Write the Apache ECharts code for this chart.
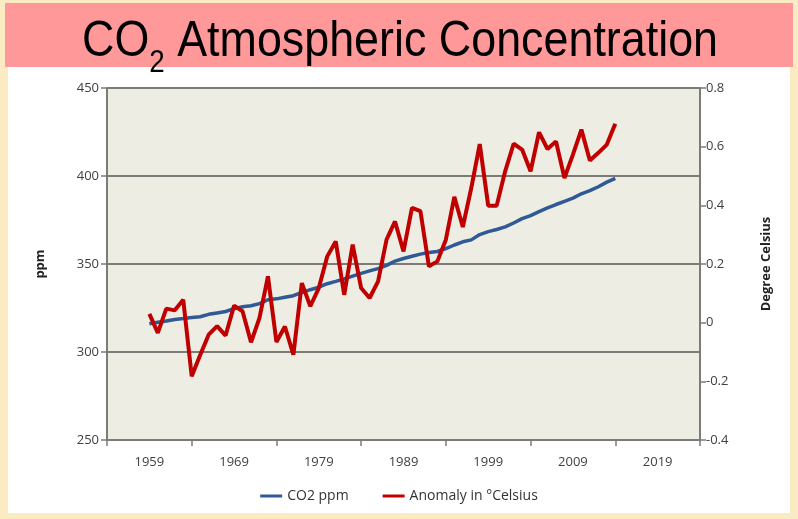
<!DOCTYPE html>
<html>
<head>
<meta charset="utf-8">
<script src="https://cdn.jsdelivr.net/npm/echarts@6/dist/echarts.min.js"></script>
<style>
html,body{margin:0;padding:0;background:#FAEBC3;}
#chart{width:798px;height:519px;}
</style>
</head>
<body>
<div id="chart"></div>
<script>
// ---- data ----
const years = [1959,1960,1961,1962,1963,1964,1965,1966,1967,1968,1969,1970,1971,1972,1973,1974,1975,1976,1977,1978,
  1979,1980,1981,1982,1983,1984,1985,1986,1987,1988,1989,1990,1991,1992,1993,1994,1995,1996,1997,1998,
  1999,2000,2001,2002,2003,2004,2005,2006,2007,2008,2009,2010,2011,2012,2013,2014];
const co2ppm = [316.0,316.9,317.6,318.5,319.0,319.6,320.0,321.4,322.2,323.0,324.6,325.7,326.3,327.5,329.7,330.2,331.1,332.0,333.8,335.4,
  336.8,338.8,340.1,341.5,343.1,344.7,346.1,347.4,349.2,351.6,353.1,354.4,355.6,356.5,357.1,358.8,360.8,362.6,363.7,366.7,
  368.4,369.6,371.1,373.3,375.8,377.5,379.8,381.9,383.8,385.6,387.4,389.9,391.7,393.9,396.5,398.7];
const anomaly = [0.03,-0.035,0.048,0.042,0.078,-0.183,-0.11,-0.041,-0.012,-0.044,0.058,0.039,-0.067,0.016,0.158,-0.066,-0.013,-0.109,0.135,0.056,
  0.118,0.226,0.277,0.095,0.266,0.118,0.084,0.141,0.283,0.345,0.243,0.391,0.38,0.192,0.209,0.283,0.429,0.326,0.459,0.609,
  0.399,0.399,0.516,0.61,0.59,0.516,0.649,0.592,0.618,0.493,0.573,0.658,0.553,0.579,0.607,0.678];
const xLabels = ['1959','1969','1979','1989','1999','2009','2019'];
const axisFirstYear = 1954, axisLastYear = 2024;
const leftTicks = [250,300,350,400,450];
const rightTicks = [-0.4,-0.2,0,0.2,0.4,0.6,0.8];
const seriesNames = ['CO2 ppm','Anomaly in °Celsius'];
const titleParts = ['CO','2',' Atmospheric Concentration'];

// category axis years
const cats = [];
for (let y = axisFirstYear; y <= axisLastYear; y++) cats.push(String(y));

const chart = echarts.init(document.getElementById('chart'));

// title measurement
const fam = "'Liberation Sans Narrow','Liberation Sans',Arial,sans-serif";
const mainFs = 50, subFs = 31;
const ctx = document.createElement('canvas').getContext('2d');
ctx.font = mainFs + 'px ' + fam;
const w1 = ctx.measureText(titleParts[0]).width;
const w3 = ctx.measureText(titleParts[2]).width;
ctx.font = subFs + 'px ' + fam;
const w2 = ctx.measureText(titleParts[1]).width;
const targetW = 636;
const sx = targetW / (w1 + w2 + w3);
const x0 = 400 - targetW / 2;

const labelFont = "'Open Sans', 'Noto Sans', sans-serif";
const axisGray = '#7B7B78';

chart.setOption({
  backgroundColor: '#FAEBC3',
  animation: false,
  graphic: [
    {type:'rect', z:-10, shape:{x:8,y:66,width:782,height:447}, style:{fill:'#FFFFFF'}},
    {type:'rect', z:-9, shape:{x:5,y:3,width:788,height:64}, style:{fill:'#FF9999'}},
    {type:'group', x:x0, y:0, scaleX:sx, z:10, children:[
      {type:'text', x:0, y:42, style:{text:titleParts[0], font: mainFs+'px '+fam, fill:'#000', verticalAlign:'middle', align:'left'}},
      {type:'text', x:w1, y:63, style:{text:titleParts[1], font: subFs+'px '+fam, fill:'#000', verticalAlign:'middle', align:'left'}},
      {type:'text', x:w1+w2, y:42, style:{text:titleParts[2], font: mainFs+'px '+fam, fill:'#000', verticalAlign:'middle', align:'left'}}
    ]}
  ],
  grid: {left:107, right:98, top:88, bottom:79, show:true, backgroundColor:'#EEEDE3', borderWidth:0},
  legend: {
    bottom: 11, left: 'center', itemGap: 34, itemWidth: 22, itemHeight: 3, icon: 'rect',
    textStyle: {fontFamily: labelFont, fontSize: 14, color: '#333'},
    data: seriesNames
  },
  xAxis: {
    type: 'category', data: cats, boundaryGap: false,
    axisLine: {onZero: false, lineStyle: {color: axisGray, width: 2}},
    axisTick: {show: true, length: 6, lineStyle: {color: axisGray, width: 1.5},
      interval: function(i, v){ return (Number(v) - 1964) % 10 === 0 || Number(v) === 1954 || Number(v) === 2024; }},
    axisLabel: {color: '#404040', fontFamily: labelFont, fontSize: 13, margin: 16,
      interval: function(i, v){ return xLabels.indexOf(v) >= 0; }},
    splitLine: {show: false}
  },
  yAxis: [
    {
      type: 'value', min: leftTicks[0], max: leftTicks[leftTicks.length-1], interval: 50,
      name: 'ppm', nameLocation: 'middle', nameRotate: 90, nameGap: 60,
      nameTextStyle: {fontFamily: labelFont, fontWeight: 'bold', fontSize: 13, color: '#222'},
      axisLine: {show: true, lineStyle: {color: axisGray, width: 2}},
      axisTick: {show: true, length: 6, lineStyle: {color: axisGray, width: 1.5}},
      axisLabel: {color: '#404040', fontFamily: labelFont, fontSize: 13, margin: 8},
      splitLine: {show: true, lineStyle: {color: axisGray, width: 2}}
    },
    {
      type: 'value', min: rightTicks[0], max: rightTicks[rightTicks.length-1], interval: 0.2,
      position: 'right',
      name: 'Degree Celsius', nameLocation: 'middle', nameRotate: 90, nameGap: 60,
      nameTextStyle: {fontFamily: labelFont, fontWeight: 'bold', fontSize: 13, color: '#222'},
      axisLine: {show: true, lineStyle: {color: axisGray, width: 2}},
      axisTick: {show: true, length: 6, lineStyle: {color: axisGray, width: 1.5}},
      axisLabel: {color: '#404040', fontFamily: labelFont, fontSize: 13, margin: 6,
        formatter: function(v){ return String(Math.round(v*10)/10); }},
      splitLine: {show: false}
    }
  ],
  series: [
    {
      name: seriesNames[0], type: 'line', yAxisIndex: 0, showSymbol: false, symbol: 'none',
      lineStyle: {color: '#2F5A96', width: 3.5}, itemStyle: {color: '#2F5A96'},
      data: years.map((y, i) => [String(y), co2ppm[i]])
    },
    {
      name: seriesNames[1], type: 'line', yAxisIndex: 1, showSymbol: false, symbol: 'none',
      lineStyle: {color: '#C00000', width: 4}, itemStyle: {color: '#C00000'},
      data: years.map((y, i) => [String(y), anomaly[i]])
    }
  ]
});
</script>
</body>
</html>
